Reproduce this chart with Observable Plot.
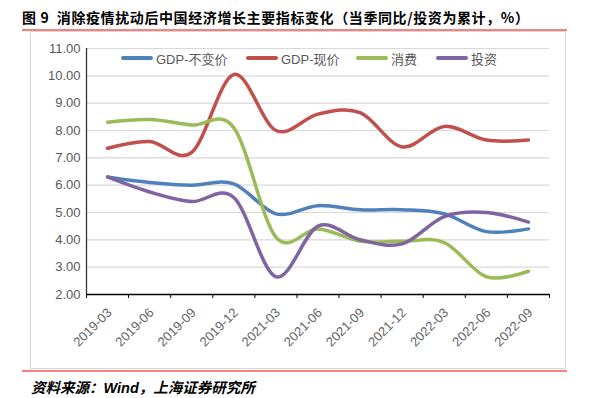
<!DOCTYPE html>
<html><head><meta charset="utf-8">
<script src="https://cdn.jsdelivr.net/npm/d3@7"></script>
<script src="https://cdn.jsdelivr.net/npm/@observablehq/plot@0.6"></script>
<style>
body{margin:0;background:#fff;}
#wrap{position:relative;width:589px;height:398px;overflow:hidden;background:#fff;}
#title{position:absolute;left:22px;top:8px;font-weight:bold;font-size:14px;font-family:"Noto Sans CJK SC",sans-serif;color:#000;white-space:nowrap;line-height:18px;letter-spacing:0.6px;}
.redline{position:absolute;left:22px;width:545px;height:2px;background:#f4827e;}
#box{position:absolute;left:30px;top:31px;width:534px;height:336px;border:1px solid #d9d9d9;}
#chart{position:absolute;left:30px;top:31px;}
#legend{position:absolute;left:0;top:0;width:589px;height:80px;pointer-events:none;}
.lg{position:absolute;top:49px;height:18px;display:flex;align-items:center;font-size:13px;font-family:"Liberation Sans","Noto Sans CJK SC",sans-serif;color:#595959;white-space:nowrap;}
.sw{display:inline-block;width:32px;height:4px;border-radius:2px;margin-right:3px;}
#source{position:absolute;left:31px;top:378px;font-weight:bold;font-style:italic;font-size:14.5px;font-family:"Noto Sans CJK SC",sans-serif;color:#000;white-space:nowrap;line-height:18px;}
</style></head>
<body>
<div id="wrap">
  <div id="title">图 9&nbsp; 消除疫情扰动后中国经济增长主要指标变化（当季同比/投资为累计，%）</div>
  <div class="redline" style="top:29px"></div>
  <div id="box"></div>
  <div id="chart"></div>
  <div id="legend"></div>
  <div class="redline" style="top:370px"></div>
  <div id="source">资料来源：<span style="font-family:'Liberation Sans',sans-serif">Wind</span>，上海证券研究所</div>
</div>
<script>
const categories = ["2019-03","2019-06","2019-09","2019-12","2021-03","2021-06","2021-09","2021-12","2022-03","2022-06","2022-09"];
const seriesNames = ["GDP-不变价","GDP-现价","消费","投资"];
const seriesColors = ["#4f81bd","#c0504d","#9bbb59","#8064a2"];
const gdpReal     = [6.3, 6.1, 6.0, 6.05, 4.95, 5.25, 5.1, 5.1, 4.95, 4.3, 4.4];
const gdpNominal  = [7.35, 7.6, 7.2, 10.05, 8.0, 8.6, 8.65, 7.4, 8.15, 7.65, 7.65];
const consumption = [8.3, 8.4, 8.2, 8.1, 4.1, 4.4, 3.95, 3.95, 3.9, 2.65, 2.85];
const investment  = [6.3, 5.75, 5.4, 5.55, 2.65, 4.5, 4.0, 3.85, 4.85, 5.0, 4.65];
const yTicks = [2,3,4,5,6,7,8,9,10,11];

const allSeries = [gdpReal, gdpNominal, consumption, investment];
const data = [];
allSeries.forEach((vals, k) => vals.forEach((v, i) => data.push({name: seriesNames[k], i, v})));
const n = categories.length;
const centers = d3.range(n);
const bounds = d3.range(n + 1).map(i => i - 0.5);

const chart = Plot.plot({
  width: 535, height: 337,
  marginLeft: 56, marginRight: 16, marginTop: 17, marginBottom: 74,
  style: {fontFamily: "'Liberation Sans', sans-serif", fontSize: "13px", color: "#595959", background: "transparent", overflow: "visible"},
  x: {type: "linear", domain: [-0.5, n - 0.5]},
  y: {domain: [2, 11]},
  color: {domain: seriesNames, range: seriesColors},
  marks: [
    Plot.gridY(yTicks.slice(1), {stroke: "#d9d9d9", strokeOpacity: 1, strokeWidth: 1.2}),
    Plot.axisY(yTicks, {tickSize: 0, tickPadding: 6, tickFormat: d => d.toFixed(2), fontSize: 13, label: null}),
    Plot.ruleX([-0.5], {stroke: "#333", strokeWidth: 1.3}),
    Plot.axisX(bounds, {tickSize: 4, tickFormat: () => "", stroke: "#000", label: null}),
    Plot.ruleY([2], {stroke: "#000", strokeWidth: 1.3}),
    Plot.axisX(centers, {tickSize: 0, tickPadding: 16, dx: 2, tickRotate: -45, tickFormat: i => categories[i], fontSize: 13, fill: "#666", label: null}),
    Plot.line(data, {x: "i", y: "v", z: "name", stroke: "name", strokeWidth: 3.5, curve: "cardinal", strokeLinecap: "round"})
  ]
});
document.getElementById("chart").appendChild(chart);

const legendPos = [121, 246, 356, 436];
const lg = document.getElementById("legend");
seriesNames.forEach((name, k) => {
  const d = document.createElement("div");
  d.className = "lg";
  d.style.left = legendPos[k] + "px";
  d.innerHTML = `<span class="sw" style="background:${seriesColors[k]}"></span>${name}`;
  lg.appendChild(d);
});
</script>
</body></html>
